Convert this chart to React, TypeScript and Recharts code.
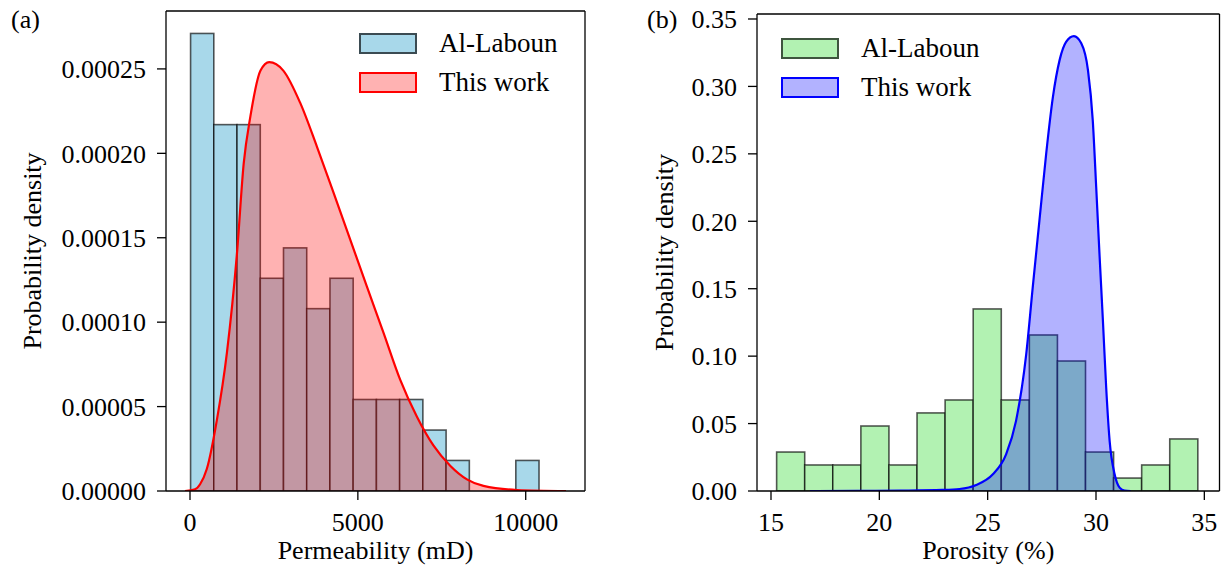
import { Area, Bar, ComposedChart, Label, Legend, ReferenceLine, XAxis, YAxis } from 'recharts';

const FONT = '"Liberation Serif", "Times New Roman", Times, serif';

// (a) permeability: Al-Laboun histogram + fitted density (this work)
const permBinStart = 20;
const permBinWidth = 692;
const permDensity = [
  0.000271, 0.000217, 0.000217, 0.000126, 0.000144, 0.000108, 0.000126, 0.0000542,
  0.0000542, 0.0000542, 0.0000361, 0.0000181, 0, 0, 0.0000181,
];
const permCurveX = [
  -150, 150, 300, 500, 800, 1100, 1400, 1600, 1800, 2100, 2360, 2780, 3280, 3780, 4270,
  4770, 5270, 5760, 6260, 6760, 7250, 7750, 8250, 8740, 9740, 11200,
];
const permCurveY = [
  0, 0.000001, 0.000004, 0.000013, 0.000042, 0.000082, 0.000141, 0.000194, 0.000222,
  0.000249, 0.000254, 0.000249, 0.00023, 0.000204, 0.000177, 0.000149, 0.000121, 0.000094,
  0.000066, 0.000044, 0.000027, 0.000015, 0.0000069, 0.000003, 0.0000006, 0,
];
const permXTicks = [0, 5000, 10000];
const permYTicks = [0, 0.00005, 0.0001, 0.00015, 0.0002, 0.00025];

// (b) porosity
const poroBinStart = 15.26;
const poroBinWidth = 1.296;
const poroDensity = [
  0.0289, 0.0193, 0.0193, 0.0482, 0.0193, 0.0579, 0.0675, 0.135, 0.0675, 0.1157, 0.0964,
  0.0289, 0.0096, 0.0193, 0.0386,
];
const poroCurveX = [
  16.8, 19, 21, 22.9, 23.7, 24.47, 25.24, 25.85, 26.31, 26.78, 27.08, 27.39, 27.7, 28.01,
  28.32, 28.62, 28.98, 29.32, 29.63, 29.85, 30.01, 30.16, 30.32, 30.47, 30.63, 30.86, 31.09,
  31.32, 31.6,
];
const poroCurveY = [
  0, 0.0001, 0.0003, 0.0008, 0.0015, 0.0045, 0.0124, 0.0272, 0.052, 0.1015, 0.151, 0.2006,
  0.25, 0.292, 0.3195, 0.333, 0.3373, 0.332, 0.312, 0.275, 0.225, 0.176, 0.126, 0.0767, 0.037,
  0.0124, 0.0025, 0.0003, 0,
];
const poroXTicks = [15, 20, 25, 30, 35];
const poroYTicks = [0, 0.05, 0.1, 0.15, 0.2, 0.25, 0.3, 0.35];

const EDGE = 'rgba(0,0,0,0.65)';
const TICK_FONT = 26;
const LABEL_FONT = 26;

type LegendItem = { name: string; fill: string; edge: string };

interface PanelProps {
  tag: string;
  tagLeft: number;
  left: number;
  width: number;
  margin: { top: number; right: number; bottom: number; left: number };
  yAxisWidth: number;
  xDomain: [number, number];
  yDomain: [number, number];
  xTicks: number[];
  yTicks: number[];
  yDigits: number;
  binStart: number;
  binWidth: number;
  density: number[];
  curveX: number[];
  curveY: number[];
  barFill: string;
  curveColor: string;
  curveFill: string;
  xLabel: string;
  yLabelX: number;
  legendLeft: number;
  legendTop: number;
}

// histogram bar: centre and height come from recharts, width is one bin in pixels
const histBar = (barPx: number) => (props: any) => {
  const { x, y, width, height, fill } = props;
  if (!height || height <= 0) return <g />;
  const cx = x + width / 2;
  return (
    <rect
      x={cx - barPx / 2}
      y={y}
      width={barPx}
      height={height}
      fill={fill}
      stroke={EDGE}
      strokeWidth={1.6}
    />
  );
};

const xTick = (props: any) => (
  <text
    x={props.x}
    y={props.y}
    dy="0.71em"
    textAnchor="middle"
    fill="#000"
    style={{ fontFamily: FONT, fontSize: TICK_FONT }}
  >
    {props.payload.value}
  </text>
);

const yTick = (digits: number) => (props: any) => (
  <text
    x={props.x}
    y={props.y}
    dy="0.355em"
    textAnchor="end"
    fill="#000"
    style={{ fontFamily: FONT, fontSize: TICK_FONT }}
  >
    {Number(props.payload.value).toFixed(digits)}
  </text>
);

function Panel(p: PanelProps) {
  const height = 575;
  const bins = p.density.map((d, i) => ({ x: p.binStart + p.binWidth * (i + 0.5), density: d }));
  const curve = p.curveX.map((x, i) => ({ x, y: p.curveY[i] }));
  const plotWidth = p.width - p.margin.left - p.margin.right - p.yAxisWidth;
  const barPx = (p.binWidth * plotWidth) / (p.xDomain[1] - p.xDomain[0]);
  const axisLine = { stroke: '#000', strokeWidth: 1.3 };
  const legendItems: LegendItem[] = [
    { name: 'Al-Laboun', fill: p.barFill, edge: EDGE },
    { name: 'This work', fill: p.curveFill, edge: p.curveColor },
  ];

  return (
    <div style={{ position: 'absolute', left: p.left, top: 0, fontFamily: FONT }}>
      <ComposedChart
        width={p.width}
        height={height}
        data={bins}
        margin={p.margin}
        barCategoryGap={0}
        barGap={0}
      >
        <XAxis
          xAxisId="x"
          dataKey="x"
          type="number"
          domain={p.xDomain}
          ticks={p.xTicks}
          allowDataOverflow
          height={75}
          tickSize={9}
          tickMargin={13}
          axisLine={axisLine}
          tickLine={axisLine}
          tick={xTick}
        >
          <Label
            position="insideBottom"
            content={(lp: any) => {
              const vb = lp.viewBox;
              return (
                <text
                  x={vb.x + vb.width / 2}
                  y={vb.y + vb.height - 7}
                  textAnchor="middle"
                  fill="#000"
                  style={{ fontFamily: FONT, fontSize: LABEL_FONT }}
                >
                  {p.xLabel}
                </text>
              );
            }}
          />
        </XAxis>
        <YAxis
          yAxisId="y"
          type="number"
          domain={p.yDomain}
          ticks={p.yTicks}
          allowDataOverflow
          width={p.yAxisWidth}
          tickSize={9}
          tickMargin={11}
          axisLine={axisLine}
          tickLine={axisLine}
          tick={yTick(p.yDigits)}
        >
          <Label
            position="insideLeft"
            content={(lp: any) => {
              const vb = lp.viewBox;
              const cx = vb.x + p.yLabelX;
              const cy = vb.y + vb.height / 2;
              return (
                <text
                  x={cx}
                  y={cy}
                  dy="0.355em"
                  textAnchor="middle"
                  transform={`rotate(-90 ${cx} ${cy})`}
                  fill="#000"
                  style={{ fontFamily: FONT, fontSize: LABEL_FONT }}
                >
                  Probability density
                </text>
              );
            }}
          />
        </YAxis>
        <Bar
          xAxisId="x"
          yAxisId="y"
          dataKey="density"
          fill={p.barFill}
          stroke={EDGE}
          shape={histBar(barPx)}
          isAnimationActive={false}
        />
        <Area
          xAxisId="x"
          yAxisId="y"
          data={curve}
          dataKey="y"
          type="monotone"
          stroke={p.curveColor}
          strokeWidth={2.2}
          fill={p.curveColor}
          fillOpacity={0.3}
          dot={false}
          activeDot={false}
          isAnimationActive={false}
          zIndex={400}
        />
        {/* closing spines of the axes box */}
        <ReferenceLine xAxisId="x" yAxisId="y" y={p.yDomain[1]} stroke="#000" strokeWidth={1.3} />
        <ReferenceLine xAxisId="x" yAxisId="y" x={p.xDomain[1]} stroke="#000" strokeWidth={1.3} />
        <Legend
          layout="vertical"
          align="center"
          verticalAlign="middle"
          wrapperStyle={{ left: p.legendLeft, top: p.legendTop, width: 'auto', height: 'auto' }}
          content={() => (
            <div style={{ fontFamily: FONT, fontSize: 27, color: '#000' }}>
              {legendItems.map((it) => (
                <div key={it.name} style={{ display: 'flex', alignItems: 'center', height: 39 }}>
                  <span
                    style={{
                      display: 'inline-block',
                      width: 58,
                      height: 21,
                      boxSizing: 'border-box',
                      border: `2.5px solid ${it.edge}`,
                      background: it.fill,
                      marginRight: 22,
                    }}
                  />
                  <span>{it.name}</span>
                </div>
              ))}
            </div>
          )}
        />
      </ComposedChart>
      <div
        style={{
          position: 'absolute',
          left: p.tagLeft,
          top: 5,
          fontFamily: FONT,
          fontSize: 26,
          color: '#000',
        }}
      >
        {p.tag}
      </div>
    </div>
  );
}

export default function App() {
  return (
    <div style={{ position: 'absolute', left: 0, top: 0, width: 1224, height: 575, background: '#fff' }}>
      <Panel
        tag="(a)"
        tagLeft={11}
        left={0}
        width={600}
        margin={{ top: 11, right: 15, bottom: 9, left: 0 }}
        yAxisWidth={166}
        xDomain={[-715, 11766]}
        yDomain={[0, 0.0002843]}
        xTicks={permXTicks}
        yTicks={permYTicks}
        yDigits={5}
        binStart={permBinStart}
        binWidth={permBinWidth}
        density={permDensity}
        curveX={permCurveX}
        curveY={permCurveY}
        barFill="#a8d8ea"
        curveColor="red"
        curveFill="rgba(255,0,0,0.3)"
        xLabel="Permeability (mD)"
        yLabelX={32}
        legendLeft={359}
        legendTop={24}
      />
      <Panel
        tag="(b)"
        tagLeft={47}
        left={600}
        width={624}
        margin={{ top: 14, right: 4.5, bottom: 9, left: 0 }}
        yAxisWidth={157}
        xDomain={[14.354, 35.7]}
        yDomain={[0, 0.3537]}
        xTicks={poroXTicks}
        yTicks={poroYTicks}
        yDigits={2}
        binStart={poroBinStart}
        binWidth={poroBinWidth}
        density={poroDensity}
        curveX={poroCurveX}
        curveY={poroCurveY}
        barFill="#b2f2b2"
        curveColor="blue"
        curveFill="rgba(0,0,255,0.3)"
        xLabel="Porosity (%)"
        yLabelX={64}
        legendLeft={181}
        legendTop={29}
      />
    </div>
  );
}
